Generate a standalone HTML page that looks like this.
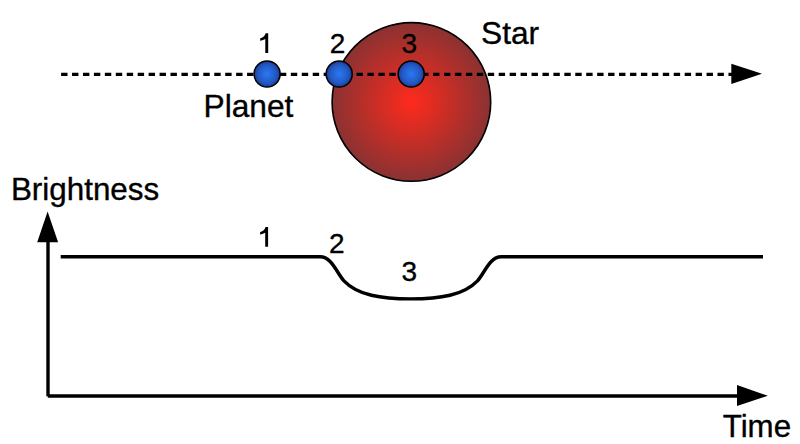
<!DOCTYPE html>
<html>
<head>
<meta charset="utf-8">
<style>
html,body{margin:0;padding:0;background:#fff;width:800px;height:444px;overflow:hidden;}
svg{display:block;}
text{font-family:"Liberation Sans", sans-serif;fill:#000;stroke:#000;stroke-width:0.35px;}
</style>
</head>
<body>
<svg width="800" height="444" viewBox="0 0 800 444">
<defs>
<radialGradient id="gs" cx="411.4" cy="101.9" r="79" gradientUnits="userSpaceOnUse">
<stop offset="0" stop-color="#ff2a1c"/>
<stop offset="1" stop-color="#8a3232"/>
</radialGradient>
<radialGradient id="gp" cx="0.5" cy="0.5" r="0.5">
<stop offset="0" stop-color="#2a7af5"/>
<stop offset="0.7" stop-color="#2358c2"/>
<stop offset="1" stop-color="#1c3d92"/>
</radialGradient>
</defs>
<!-- star -->
<circle cx="411.4" cy="101.9" r="79.3" fill="url(#gs)" stroke="#000" stroke-width="1.6"/>
<!-- dashed line -->
<line x1="61.1" y1="74.3" x2="732" y2="74.3" stroke="#000" stroke-width="3.2" stroke-dasharray="6.4 4.54"/>
<polygon points="731.3,63.7 762,73.8 731.3,83.9" fill="#000"/>
<!-- planets -->
<circle cx="267.1" cy="74.05" r="13.05" fill="url(#gp)" stroke="#000" stroke-width="1.5"/>
<circle cx="339.2" cy="74.05" r="13.05" fill="url(#gp)" stroke="#000" stroke-width="1.5"/>
<circle cx="411.2" cy="74.05" r="13.05" fill="url(#gp)" stroke="#000" stroke-width="1.5"/>
<!-- labels top -->
<path transform="translate(268.2,33.2)" d="M0 0 L0 19.9 L-2.9 19.9 L-2.9 5.9 C-4.2 6.8 -6.2 7.4 -8 7.6 L-8 5.0 C-5.8 4.6 -3.4 3.0 -2.5 0 Z"/>
<text x="329.7" y="53.3" font-size="28">2</text>
<text x="401.5" y="53.3" font-size="28">3</text>
<text x="481" y="44" font-size="31.7">Star</text>
<text x="203.5" y="116.5" font-size="31.7">Planet</text>
<!-- axes -->
<line x1="48" y1="241" x2="48" y2="396.3" stroke="#000" stroke-width="3.4"/>
<polygon points="47.6,211.4 37.2,242.3 58.1,242.3" fill="#000"/>
<line x1="47.8" y1="396" x2="738" y2="396" stroke="#000" stroke-width="3.4"/>
<polygon points="737,385.1 767.8,395.7 737,406.1" fill="#000"/>
<text x="10.9" y="199.8" font-size="31.4">Brightness</text>
<text x="722.7" y="437" font-size="31.3">Time</text>
<!-- light curve -->
<path d="M60.7 256.8 L320.13 256.80 C331.83 256.80 337.18 273.69 343.94 280.80 C357.66 295.20 381.16 298.90 410.70 298.90 C440.24 298.90 463.74 295.20 477.46 280.80 C484.22 273.69 489.57 256.80 501.27 256.80 L763 256.8" fill="none" stroke="#000" stroke-width="3.4"/>
<path transform="translate(268.1,226.9)" d="M0 0 L0 19.9 L-2.9 19.9 L-2.9 5.9 C-4.2 6.8 -6.2 7.4 -8 7.6 L-8 5.0 C-5.8 4.6 -3.4 3.0 -2.5 0 Z"/>
<text x="329" y="252.6" font-size="28">2</text>
<text x="401.5" y="280.6" font-size="28">3</text>
</svg>
</body>
</html>
